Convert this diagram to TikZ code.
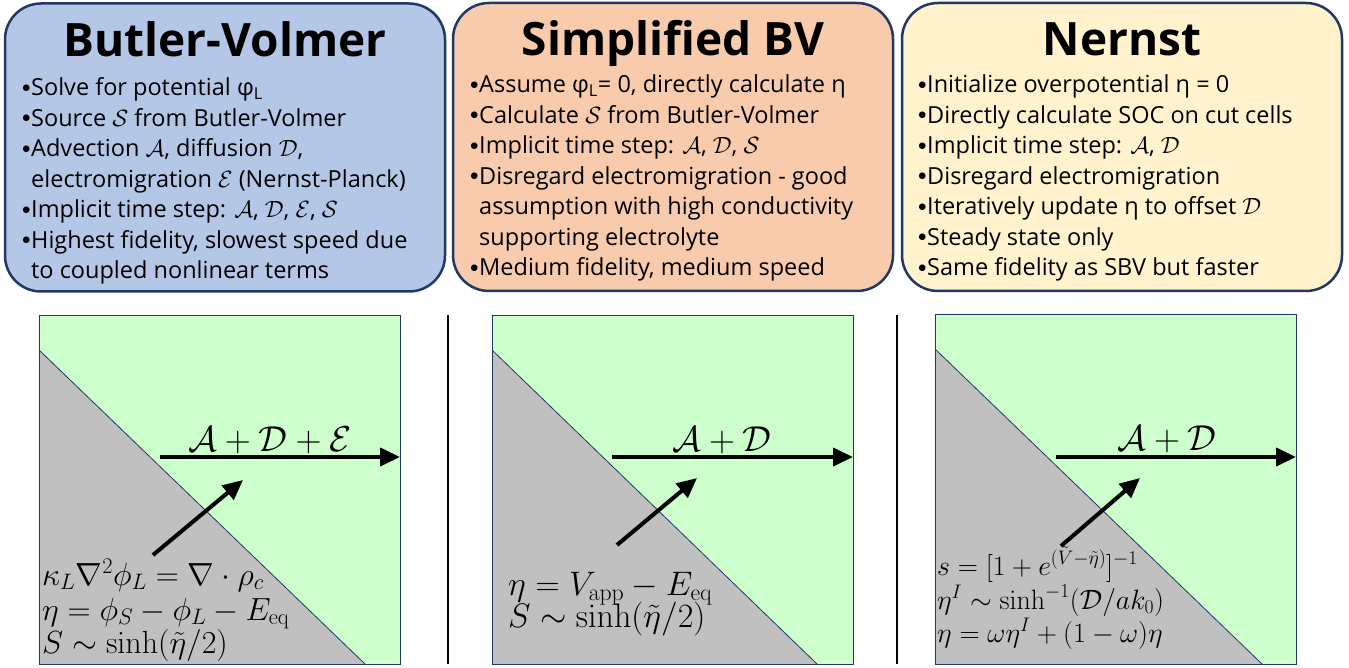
\RequirePackage{fix-cm}
\documentclass[tikz,border=0pt]{standalone}
\usepackage[no-math]{fontspec}
\setmainfont{Open Sans}
\usetikzlibrary{arrows.meta,positioning}

\definecolor{bvblue}{HTML}{B4C7E7}
\definecolor{sbvorange}{HTML}{F8CBAD}
\definecolor{nernstyellow}{HTML}{FFF2CC}
\definecolor{boxnavy}{HTML}{1F3864}
\definecolor{fluidgreen}{HTML}{CCFFCC}
\definecolor{solidgrey}{HTML}{C0C0C0}

\newcommand{\bul}{\makebox[8pt][l]{\hspace*{-1pt}\raisebox{3.5pt}{\fontsize{17}{17}\selectfont$\bullet$}}}
\newcommand{\cont}{\hspace*{8pt}}

\begin{document}
\begin{tikzpicture}[x=1pt, y=-1pt,
	mainbox/.style={draw=boxnavy, line width=2.5pt, rounded corners=36pt, minimum width=440pt, minimum height=288pt},
	titletext/.style={font=\fontsize{46}{46}\selectfont\bfseries, inner sep=0pt, anchor=base},
	itemtext/.style={font=\fontsize{23.5}{30.5}\selectfont, align=left, inner sep=0pt, anchor=north west},
	eqtext/.style={font=\fontsize{#1}{#1}\selectfont, inner sep=0pt, anchor=base west},
	flowtext/.style={font=\fontsize{36}{36}\selectfont, inner sep=0pt, anchor=base},
	panelline/.style={draw=boxnavy, line width=0.8pt},
	fluxarrow/.style={line width=4pt, -{Triangle[length=20pt, width=18pt]}},
	>=latex,   % tips
	]
	\useasboundingbox (0,0) rectangle (1349,668);

	% top boxes
	\node[mainbox, fill=bvblue] (bvbox) at (225,147.5) {};
	\node[mainbox, fill=sbvorange] (sbvbox) at (673,147) {};
	\node[mainbox, fill=nernstyellow] (nernstbox) at (1122,147) {};

	\node[titletext] (bvtitle) at (225,57) {Butler-Volmer};
	\node[titletext] (sbvtitle) at (673,55.5) {Simplified BV};
	\node[titletext] (nernsttitle) at (1122,55.5) {Nernst};

	\node[itemtext] (bvitems) at (23,74) {\strut\bul Solve for potential φ\textsubscript{L}\\
		\bul Source $\mathcal{S}$ from Butler-Volmer\\
		\bul Advection $\mathcal{A}$, diffusion $\mathcal{D}$,\\
		\cont electromigration $\mathcal{E}$ (Nernst-Planck)\\
		\bul Implicit time step: $\mathcal{A}$, $\mathcal{D}$, $\mathcal{E}$, $\mathcal{S}$\\
		\bul Highest fidelity, slowest speed due\\
		\cont to coupled nonlinear terms};
	\node[itemtext] (sbvitems) at (471,71) {\strut\bul Assume φ\textsubscript{L}= 0, directly calculate η\\
		\bul Calculate $\mathcal{S}$ from Butler-Volmer\\
		\bul Implicit time step: $\mathcal{A}$, $\mathcal{D}$, $\mathcal{S}$\\
		\bul Disregard electromigration - good\\
		\cont assumption with high conductivity\\
		\cont supporting electrolyte\\
		\bul Medium fidelity, medium speed};
	\node[itemtext] (nernstitems) at (919,71) {\strut\bul Initialize overpotential η = 0\\
		\bul Directly calculate SOC on cut cells\\
		\bul Implicit time step: $\mathcal{A}$, $\mathcal{D}$\\
		\bul Disregard electromigration\\
		\bul Iteratively update η to offset $\mathcal{D}$\\
		\bul Steady state only\\
		\bul Same fidelity as SBV but faster};

	% lower panels
	\fill[fluidgreen] (39,315) rectangle (400,664);
	\fill[solidgrey] (39,350) -- (365,664) -- (39,664) -- cycle;
	\draw[panelline] (39,350) -- (365,664);
	\draw[panelline] (39,315) rectangle (400,664);

	\fill[fluidgreen] (492,315) rectangle (853,664);
	\fill[solidgrey] (492,350) -- (817,664) -- (492,664) -- cycle;
	\draw[panelline] (492,350) -- (817,664);
	\draw[panelline] (492,315) rectangle (853,664);

	\fill[fluidgreen] (935,314) rectangle (1296,664);
	\fill[solidgrey] (935,349) -- (1262,664) -- (935,664) -- cycle;
	\draw[panelline] (935,349) -- (1262,664);
	\draw[panelline] (935,314) rectangle (1296,664);

	\draw[black, line width=1.2pt] (448,315) -- (448,664);
	\draw[black, line width=1.2pt] (897,315) -- (897,664);

	% flux arrows
	\coordinate (bvflowa) at (160,457);
	\coordinate (bvflowb) at (400,457);
	\coordinate (bvsrc) at (153,555);
	\coordinate (bvdst) at (243,480);
	\draw[fluxarrow] (bvflowa) -- (bvflowb);
	\draw[fluxarrow] (bvsrc) -- (bvdst);
	\node[flowtext] (bvflow) at (270,451) {$\mathcal{A}+\mathcal{D}+\mathcal{E}$};

	\coordinate (sbvflowa) at (612,457);
	\coordinate (sbvflowb) at (853,457);
	\coordinate (sbvsrc) at (617,545);
	\coordinate (sbvdst) at (697,478);
	\draw[fluxarrow] (sbvflowa) -- (sbvflowb);
	\draw[fluxarrow] (sbvsrc) -- (sbvdst);
	\node[flowtext] (sbvflow) at (722,451) {$\mathcal{A}+\mathcal{D}$};

	\coordinate (nernstflowa) at (1056,457);
	\coordinate (nernstflowb) at (1296,457);
	\coordinate (nernstsrc) at (1061,546);
	\coordinate (nernstdst) at (1140,478);
	\draw[fluxarrow] (nernstflowa) -- (nernstflowb);
	\draw[fluxarrow] (nernstsrc) -- (nernstdst);
	\node[flowtext] (nernstflow) at (1167,450) {$\mathcal{A}+\mathcal{D}$};

	% equations
	\node[eqtext=32] (bveqa) at (42,585) {$\kappa_L\nabla^2\phi_L = \nabla\cdot\rho_c$};
	\node[eqtext=32] (bveqb) at (42,620) {$\eta = \phi_S - \phi_L - E_{\mathrm{eq}}$};
	\node[eqtext=32] (bveqc) at (42,653) {$S \sim \sinh(\tilde{\eta}/2)$};

	\node[eqtext=34] (sbveqa) at (508,595) {$\eta = V_{\mathrm{app}} - E_{\mathrm{eq}}$};
	\node[eqtext=34] (sbveqb) at (508,627) {$S \sim \sinh(\tilde{\eta}/2)$};

	\node[eqtext=28] (nernsteqa) at (937,575) {$s = [1+e^{(\tilde{V}-\tilde{\eta})}]^{-1}$};
	\node[eqtext=28] (nernsteqb) at (937,609) {$\eta^I \sim \sinh^{-1}(\mathcal{D}/ak_0)$};
	\node[eqtext=28] (nernsteqc) at (937,642) {$\eta = \omega\eta^I + (1-\omega)\eta$};
\end{tikzpicture}
\end{document}
